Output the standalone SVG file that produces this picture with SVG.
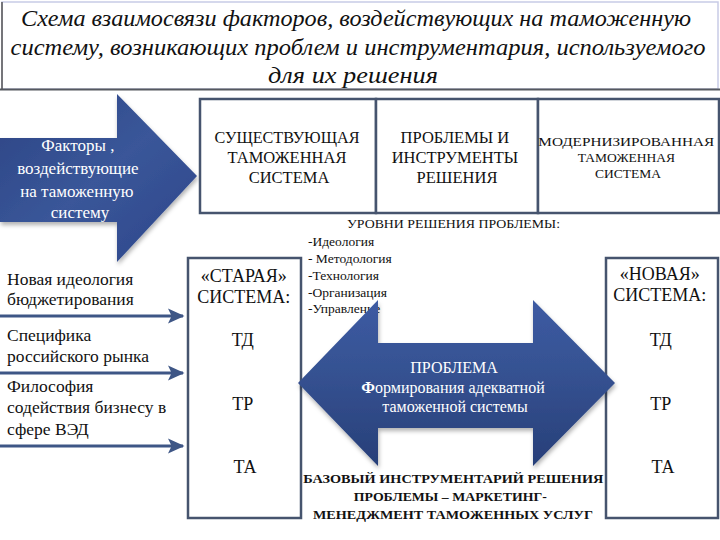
<svg xmlns="http://www.w3.org/2000/svg" width="720" height="540" viewBox="0 0 720 540">
<defs>
<style>
.t{fill:#111}
.w{fill:#fff}
.box{fill:#fff;stroke:#46546e;stroke-width:2.5}
.conn{stroke:#3e5686;stroke-width:3;fill:none}
</style>
<linearGradient id="g1" x1="0" y1="0" x2="1" y2="1">
<stop offset="0" stop-color="#2c4584"/>
<stop offset="0.5" stop-color="#3a5699"/>
<stop offset="1" stop-color="#2d468a"/>
</linearGradient>
<linearGradient id="g2" x1="0" y1="0" x2="0" y2="1">
<stop offset="0" stop-color="#3d5ba3"/>
<stop offset="0.5" stop-color="#34508f"/>
<stop offset="1" stop-color="#273e78"/>
</linearGradient>
<filter id="sh" x="-10%" y="-10%" width="120%" height="130%">
<feDropShadow dx="1" dy="3" stdDeviation="2" flood-color="#000" flood-opacity="0.3"/>
</filter>
<marker id="ah" markerWidth="6" markerHeight="6" refX="5" refY="3" orient="auto" markerUnits="strokeWidth">
<path d="M0,0.5 L5.5,3 L0,5.5 L1.2,3 Z" fill="#3e5686"/>
</marker>
</defs>
<rect width="720" height="540" fill="#fff"/>

<g id="title">
<rect x="2" y="2" width="716" height="87" fill="#fff" stroke="#c8cbe6" stroke-width="1.5"/>
<line x1="0" y1="89.5" x2="720" y2="89.5" stroke="#55585f" stroke-width="2"/>
<line x1="2" y1="2" x2="2" y2="89" stroke="#555" stroke-width="1.5"/>
<text class="t" font-family="Liberation Serif, serif" font-style="italic" font-size="24" text-anchor="middle">
<tspan x="359" y="26" textLength="670" lengthAdjust="spacingAndGlyphs">Схема взаимосвязи факторов, воздействующих на таможенную</tspan>
<tspan x="361" y="55" textLength="695" lengthAdjust="spacingAndGlyphs">систему, возникающих проблем и инструментария, используемого</tspan>
<tspan x="353" y="83" textLength="170" lengthAdjust="spacingAndGlyphs">для их решения</tspan>
</text>
</g>

<g id="factors-arrow">
<path d="M0,138 L117,138 L117,94 L197,176 L117,262 L117,222 L0,222 Z" fill="url(#g1)" filter="url(#sh)"/>
<text class="w" font-family="Liberation Serif, serif" font-size="17" text-anchor="middle">
<tspan x="80" y="151">Факторы ,</tspan>
<tspan x="80" y="174">воздействующие</tspan>
<tspan x="79" y="197">на таможенную</tspan>
<tspan x="80" y="218">систему</tspan>
</text>
</g>

<g id="box-existing">
<rect class="box" x="200" y="99" width="176" height="114"/>
<text class="t" font-family="Liberation Serif, serif" font-size="16.5" text-anchor="middle">
<tspan x="289" y="143" textLength="145" lengthAdjust="spacingAndGlyphs">СУЩЕСТВУЮЩАЯ</tspan>
<tspan x="289" y="163">ТАМОЖЕННАЯ</tspan>
<tspan x="289" y="183">СИСТЕМА</tspan>
</text>
</g>
<g id="box-problems">
<rect class="box" x="376" y="99" width="162" height="114"/>
<text class="t" font-family="Liberation Serif, serif" font-size="16.5" text-anchor="middle">
<tspan x="457" y="143">ПРОБЛЕМЫ И</tspan>
<tspan x="457" y="163">ИНСТРУМЕНТЫ</tspan>
<tspan x="457" y="183">РЕШЕНИЯ</tspan>
</text>
</g>
<g id="box-modern">
<rect class="box" x="538" y="99" width="181" height="114"/>
<text class="t" font-family="Liberation Serif, serif" font-size="13.5" text-anchor="middle">
<tspan x="628" y="146" textLength="176" lengthAdjust="spacingAndGlyphs">МОДЕРНИЗИРОВАННАЯ</tspan>
<tspan x="628" y="162">ТАМОЖЕННАЯ</tspan>
<tspan x="628" y="178">СИСТЕМА</tspan>
</text>
</g>

<g id="levels">
<text class="t" font-family="Liberation Serif, serif" font-size="13.5" x="347" y="228" textLength="213" lengthAdjust="spacingAndGlyphs">УРОВНИ РЕШЕНИЯ ПРОБЛЕМЫ:</text>
<text class="t" font-family="Liberation Serif, serif" font-size="13.5">
<tspan x="308" y="246">-Идеология</tspan>
<tspan x="308" y="263">- Методология</tspan>
<tspan x="308" y="280">-Технология</tspan>
<tspan x="308" y="297">-Организация</tspan>
<tspan x="308" y="313">-Управление</tspan>
</text>
</g>

<g id="box-old">
<rect class="box" x="188" y="258" width="113" height="260"/>
<text class="t" font-family="Liberation Serif, serif" font-size="18" text-anchor="middle">
<tspan x="246" y="282">«СТАРАЯ»</tspan>
<tspan x="246" y="303">СИСТЕМА:</tspan>
<tspan x="245" y="346">ТД</tspan>
<tspan x="245" y="410">ТР</tspan>
<tspan x="245" y="473">ТА</tspan>
</text>
</g>

<g id="box-new">
<rect class="box" x="606" y="258" width="112" height="260"/>
<text class="t" font-family="Liberation Serif, serif" font-size="18" text-anchor="middle">
<tspan x="662" y="280">«НОВАЯ»</tspan>
<tspan x="662" y="301">СИСТЕМА:</tspan>
<tspan x="663" y="346">ТД</tspan>
<tspan x="663" y="410">ТР</tspan>
<tspan x="663" y="473">ТА</tspan>
</text>
</g>

<g id="problem-arrow">
<path d="M298,383 L378,300 L378,343 L533,343 L533,300 L615,383 L533,466 L533,428 L378,428 L378,466 Z" fill="url(#g2)" filter="url(#sh)"/>
<text class="w" font-family="Liberation Serif, serif" font-size="16" text-anchor="middle">
<tspan x="456" y="373">ПРОБЛЕМА</tspan>
<tspan x="455" y="393"><tspan font-weight="bold">Ф</tspan>ормирования адекватной</tspan>
<tspan x="455" y="412">таможенной системы</tspan>
</text>
</g>

<g id="base-tools">
<text class="t" font-family="Liberation Serif, serif" font-size="13.5" font-weight="bold" text-anchor="middle">
<tspan x="455" y="483" textLength="300" lengthAdjust="spacingAndGlyphs">БАЗОВЫЙ ИНСТРУМЕНТАРИЙ РЕШЕНИЯ</tspan>
<tspan x="452" y="501" textLength="193" lengthAdjust="spacingAndGlyphs">ПРОБЛЕМЫ – МАРКЕТИНГ-</tspan>
<tspan x="453" y="519" textLength="280" lengthAdjust="spacingAndGlyphs">МЕНЕДЖМЕНТ ТАМОЖЕННЫХ УСЛУГ</tspan>
</text>
</g>

<g id="factor-items">
<text class="t" font-family="Liberation Serif, serif" font-size="17.5">
<tspan x="7" y="285">Новая идеология</tspan>
<tspan x="7" y="305">бюджетирования</tspan>
<tspan x="7" y="341">Специфика</tspan>
<tspan x="7" y="362">российского рынка</tspan>
<tspan x="7" y="392">Философия</tspan>
<tspan x="7" y="413">содействия бизнесу в</tspan>
<tspan x="7" y="435">сфере ВЭД</tspan>
</text>
</g>

<g id="connectors">
<line class="conn" x1="0" y1="316" x2="183" y2="316" marker-end="url(#ah)"/>
<line class="conn" x1="0" y1="373" x2="183" y2="373" marker-end="url(#ah)"/>
<line class="conn" x1="0" y1="446" x2="183" y2="446" marker-end="url(#ah)"/>
</g>
</svg>
